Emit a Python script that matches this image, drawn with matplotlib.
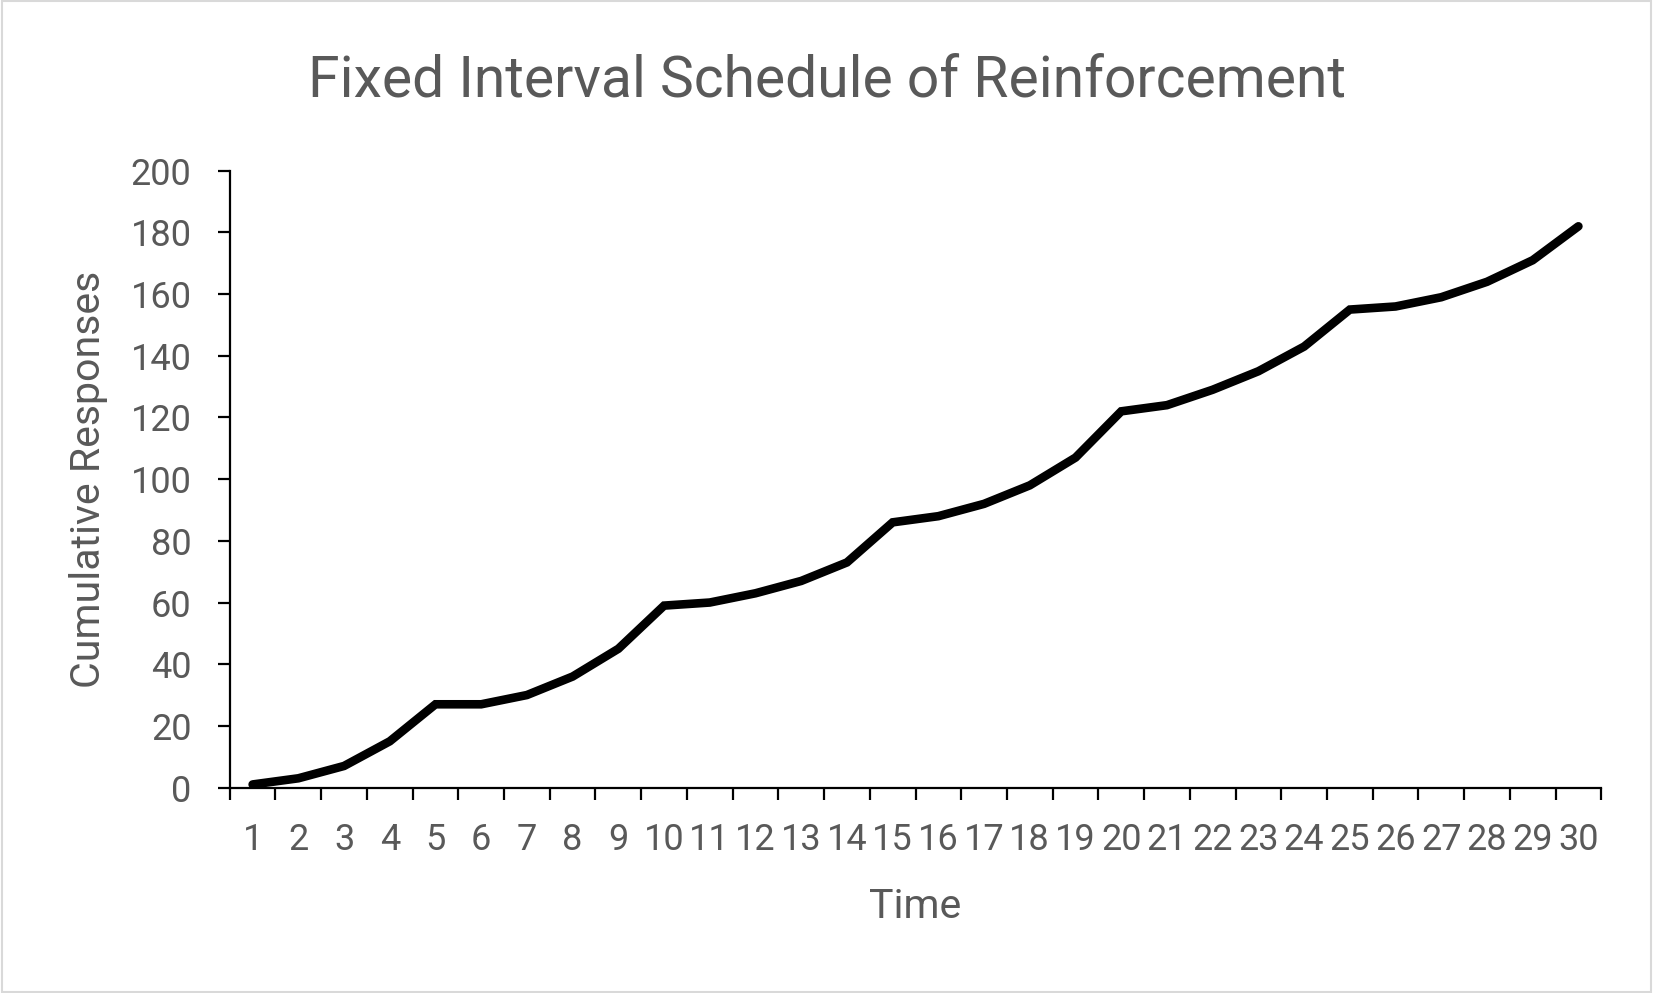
import matplotlib
matplotlib.use("Agg")
import matplotlib.pyplot as plt
from matplotlib.patches import Rectangle

# Cumulative responses per time step
time_steps = list(range(1, 31))
responses = [1, 3, 7, 15, 27, 27, 30, 36, 45, 59,
             60, 63, 67, 73, 86, 88, 92, 98, 107, 122,
             124, 129, 135, 143, 155, 156, 159, 164, 171, 182]
y_ticks = list(range(0, 201, 20))

TEXT_GREY = "#595959"
plt.rcParams["font.family"] = ["Roboto", "DejaVu Sans"]

fig = plt.figure(figsize=(16.53, 9.93), dpi=100)
ax = fig.add_axes([0.139, 0.2069, 0.8297, 0.6211])

ax.plot(time_steps, responses, color="black", lw=6.2,
        solid_capstyle="round", solid_joinstyle="miter")

ax.set_xlim(0.5, 30.5)
ax.set_ylim(0, 200)

# category axis: tick marks between categories, labels at the centres
ax.set_xticks([i + 0.5 for i in range(0, 31)])
ax.set_xticklabels([])
ax.set_xticks(time_steps, minor=True)
ax.set_xticklabels([str(t) for t in time_steps], minor=True,
                   fontsize=26, color=TEXT_GREY)
ax.tick_params(axis="x", which="major", direction="out", length=8.5,
               width=1.6, color="black")
ax.tick_params(axis="x", which="minor", length=0, pad=25)

ax.set_yticks(y_ticks)
ax.set_yticklabels([str(v) for v in y_ticks], fontsize=26, color=TEXT_GREY)
ax.tick_params(axis="y", direction="out", length=8.5, width=1.6,
               color="black", pad=19)

for side in ["top", "right"]:
    ax.spines[side].set_visible(False)
for side in ["left", "bottom"]:
    ax.spines[side].set_linewidth(1.6)
    ax.spines[side].set_color("black")

fig.text(0.5, 0.9033, "Fixed Interval Schedule of Reinforcement",
         ha="center", va="baseline", fontsize=41, color=TEXT_GREY)
fig.text(0.0535, 0.517, "Cumulative Responses", rotation=90,
         ha="center", va="center", fontsize=29.6, color=TEXT_GREY)
fig.text(0.5537, 0.087, "Time", ha="center", va="center",
         fontsize=29.6, color=TEXT_GREY)

# light grey frame round the chart area
fig.patches.append(Rectangle((0.001, 0.001), 0.998, 0.998,
                             transform=fig.transFigure, fill=False,
                             edgecolor="#d9d9d9", lw=1.5))

fig.savefig("out.png", dpi=100)
